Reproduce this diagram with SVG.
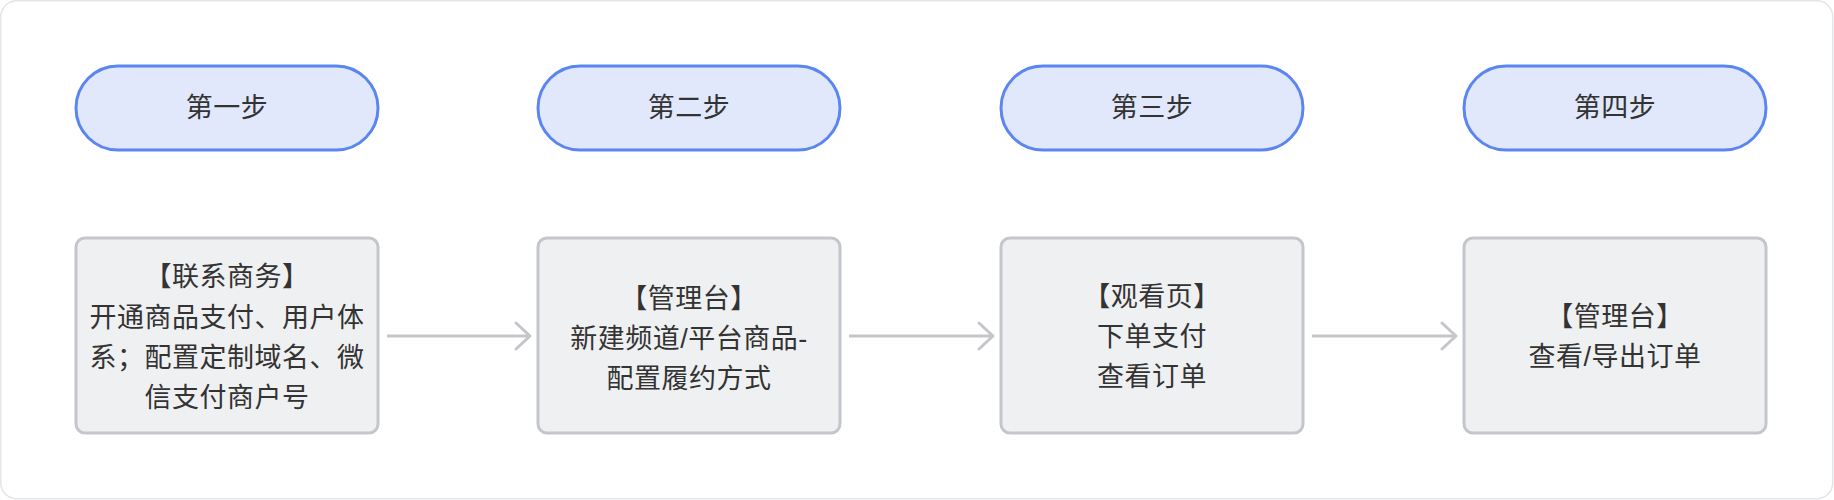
<svg xmlns="http://www.w3.org/2000/svg" width="1834" height="500" viewBox="0 0 1834 500">
<defs>
<style>
.frame{fill:#ffffff;stroke:#e4e5e7;stroke-width:1.5}
.pill{fill:#e1e8fb;stroke:#5b86f1;stroke-width:3}
.box{fill:#eff0f2;stroke:#c4c6cb;stroke-width:3}
.t{font-family:"Liberation Sans","Noto Sans CJK SC",sans-serif;font-size:27px;letter-spacing:0.5px;fill:#333333;text-anchor:middle;dominant-baseline:central}
.conn{stroke:#c4c6cb;stroke-width:3;fill:none}
</style>
<marker id="arr" viewBox="0 0 20 30" refX="17" refY="15" markerWidth="20" markerHeight="30" markerUnits="userSpaceOnUse" orient="auto">
<path d="M3,2 L17,15 L3,28" fill="none" stroke="#c4c6cb" stroke-width="3" stroke-linecap="round" stroke-linejoin="round"/>
</marker>
</defs>
<rect class="frame" x="0.75" y="0.75" width="1832" height="498" rx="16"/>
<g id="step1"><rect class="pill" x="76" y="66" width="302" height="84" rx="42"/><text class="t" x="227" y="108">第一步</text></g>
<g id="step2"><rect class="pill" x="538" y="66" width="302" height="84" rx="42"/><text class="t" x="689" y="108">第二步</text></g>
<g id="step3"><rect class="pill" x="1001" y="66" width="302" height="84" rx="42"/><text class="t" x="1152" y="108">第三步</text></g>
<g id="step4"><rect class="pill" x="1464" y="66" width="302" height="84" rx="42"/><text class="t" x="1615" y="108">第四步</text></g>
<g id="box1"><rect class="box" x="76" y="238" width="302" height="195" rx="9"/>
<text class="t" x="227" y="277">【联系商务】</text>
<text class="t" x="227" y="318">开通商品支付、用户体</text>
<text class="t" x="227" y="358">系；配置定制域名、微</text>
<text class="t" x="227" y="398">信支付商户号</text></g>
<g id="box2"><rect class="box" x="538" y="238" width="302" height="195" rx="9"/>
<text class="t" x="689" y="299">【管理台】</text>
<text class="t" x="689" y="339">新建频道/平台商品-</text>
<text class="t" x="689" y="379">配置履约方式</text></g>
<g id="box3"><rect class="box" x="1001" y="238" width="302" height="195" rx="9"/>
<text class="t" x="1152" y="297">【观看页】</text>
<text class="t" x="1152" y="337">下单支付</text>
<text class="t" x="1152" y="377">查看订单</text></g>
<g id="box4"><rect class="box" x="1464" y="238" width="302" height="195" rx="9"/>
<text class="t" x="1615" y="317">【管理台】</text>
<text class="t" x="1615" y="357">查看/导出订单</text></g>
<g id="connectors">
<line class="conn" x1="387" y1="336" x2="530" y2="336" marker-end="url(#arr)"/>
<line class="conn" x1="849" y1="336" x2="993" y2="336" marker-end="url(#arr)"/>
<line class="conn" x1="1312" y1="336" x2="1456" y2="336" marker-end="url(#arr)"/>
</g>
</svg>
